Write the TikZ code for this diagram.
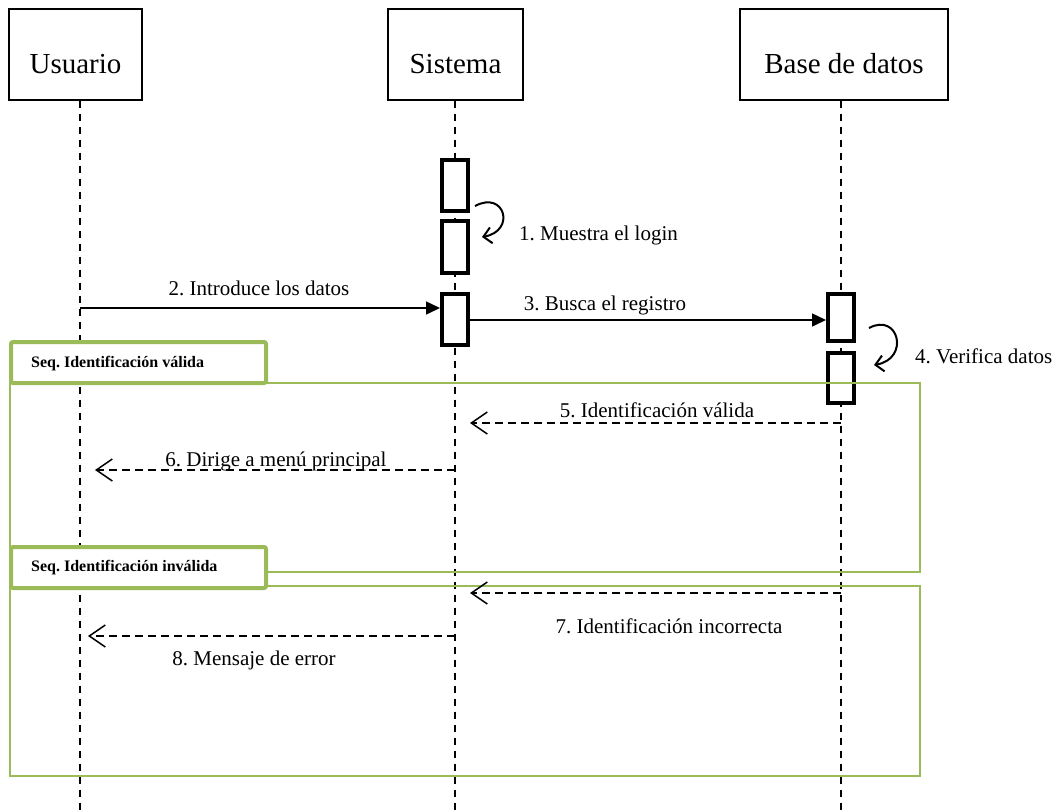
\documentclass[tikz,border=0pt]{standalone}
\usepackage{fontspec}
\setmainfont{Liberation Serif}
\usetikzlibrary{arrows.meta,calc}
\definecolor{seqgreen}{HTML}{9BBB59}
\frenchspacing
\begin{document}
\begin{tikzpicture}[x=1pt,y=-1pt,
  actor/.style={draw, line width=1.3pt, minimum width=#1, minimum height=91pt,
    inner sep=0pt, text height=37pt, text depth=0pt,
    font=\fontsize{29}{34}\selectfont},
  lifeline/.style={line width=1.5pt, dash pattern=on 7pt off 6pt},
  actbox/.style={draw, line width=4pt, fill=white, minimum width=26pt,
    inner sep=0pt, minimum height=#1},
  frame/.style={draw=seqgreen, line width=1.5pt},
  seqbox/.style={draw=seqgreen, line width=4pt, fill=white, rounded corners=2pt,
    minimum width=255pt, minimum height=41pt, inner sep=0pt},
  seqtext/.style={font=\bfseries\fontsize{16}{19}\selectfont, inner sep=0pt},
  msglabel/.style={font=\fontsize{21}{25}\selectfont, inner sep=0pt},
  call/.style={line width=1.5pt, -{Triangle[length=14pt,width=13pt]}},
  reply/.style={line width=1.5pt, dash pattern=on 8pt off 5pt,
    -{Straight Barb[length=16pt,width=22pt,line width=1.5pt]}},
  selfcall/.style={line width=2pt, -{Straight Barb[length=8pt,width=16pt,line width=2pt]}}
]
\path[use as bounding box] (0,0) rectangle (1060,811);

% participants
\node[actor=133pt] (usuario) at (75.5,54.5) {Usuario};
\node[actor=135pt] (sistema) at (455.5,54.5) {Sistema};
\node[actor=208pt] (bd) at (844,54.5) {Base de datos};

% lifelines
\coordinate (uEnd) at (80,811);
\coordinate (sEnd) at (455,811);
\coordinate (bEnd) at (841,811);
\draw[lifeline] (usuario.south -| uEnd) -- (uEnd);
\draw[lifeline] (sistema.south -| sEnd) -- (sEnd);
\draw[lifeline] (bd.south -| bEnd) -- (bEnd);

% activation bars
\node[actbox=51pt] (s1) at (455,185.5) {};
\node[actbox=52pt] (s2) at (455,247) {};
\node[actbox=51pt] (s3) at (455,319.5) {};
\node[actbox=47pt] (b1) at (841,317.5) {};
\node[actbox=50pt] (b2) at (841,378) {};

% combined fragments
\node[frame, anchor=north west, minimum width=910pt, minimum height=189pt, inner sep=0pt] (frame1) at (9,382) {};
\node[frame, anchor=north west, minimum width=910pt, minimum height=190pt, inner sep=0pt] (frame2) at (9,585) {};
\node[seqbox, anchor=north west] (seq1) at (9,340) {};
\node[seqtext, anchor=base west] (seq1t) at (31,367) {Seq. Identificación válida};
\node[seqbox, anchor=north west] (seq2) at (9,545) {};
\node[seqtext, anchor=base west] (seq2t) at (31,571) {Seq. Identificación inválida};

% self calls
\draw[selfcall] ($(s1.south east)+(5,-7)$) .. controls +(30,-16) and +(34,-6) .. ($(s2.east)+(12,-10)$);
\draw[selfcall] ($(b1.south east)+(13,-15)$) .. controls +(30,-16) and +(36,-6) .. ($(b2.east)+(18,-13)$);

% messages
\coordinate (m2) at (80,308);
\coordinate (m3) at (0,320);
\coordinate (m5) at (0,423);
\coordinate (m6) at (0,470);
\coordinate (m7) at (0,593);
\coordinate (m8) at (0,636);
\coordinate (sRet) at (470,0);
\coordinate (uRet6) at (95,0);
\coordinate (uRet8) at (88,0);

\draw[call] (m2) -- (m2 -| s3.west);
\draw[call] (s3.east |- m3) -- (b1.west |- m3);
\draw[reply] (bEnd |- m5) -- (sRet |- m5);
\draw[reply] (sEnd |- m6) -- (uRet6 |- m6);
\draw[reply] (bEnd |- m7) -- (sRet |- m7);
\draw[reply] (sEnd |- m8) -- (uRet8 |- m8);

% message labels
\node[msglabel, anchor=base west] (l1) at (519,240) {1. Muestra el login};
\node[msglabel, anchor=base] (l2) at (259,295) {2. Introduce los datos};
\node[msglabel, anchor=base] (l3) at (605,310) {3. Busca el registro};
\node[msglabel, anchor=base west] (l4) at (915,363) {4. Verifica datos};
\node[msglabel, anchor=base] (l5) at (657,417) {5. Identificación válida};
\node[msglabel, anchor=base] (l6) at (276,466) {6. Dirige a menú principal};
\node[msglabel, anchor=base] (l7) at (669,633) {7. Identificación incorrecta};
\node[msglabel, anchor=base] (l8) at (254,665) {8. Mensaje de error};
\end{tikzpicture}
\end{document}
